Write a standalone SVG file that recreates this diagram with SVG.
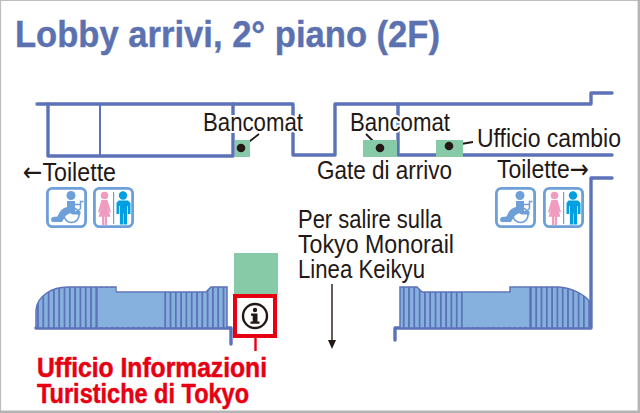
<svg xmlns="http://www.w3.org/2000/svg" width="640" height="413" viewBox="0 0 640 413">
<style>
.w{fill:none;stroke:#5c72b8;stroke-width:3.4;stroke-linejoin:round;stroke-linecap:round}
.t{font-family:"Liberation Sans",Arial,sans-serif;font-size:26px;fill:#231815}
.r{font-family:"Liberation Sans",Arial,sans-serif;font-size:27px;font-weight:700;fill:#e60012;stroke:#e60012;stroke-width:.5}
.a{font-family:"DejaVu Sans",sans-serif}
.g{fill:#87caa8}
.l{fill:none;stroke:#231815;stroke-width:1.800}
.d{fill:#231815}
.b{fill:#fff;stroke:#6e9fd8;stroke-width:2.800}
</style>
<defs>
<pattern id="st" width="5.300" height="10" patternUnits="userSpaceOnUse"><rect width="5.300" height="10" fill="#86b1de"/><rect width="1.800" height="10" fill="#5c72b8"/></pattern>
<g id="wc">
<rect class="b" x="1.400" y="1.400" width="38.200" height="38.200" rx="5"/>
<circle cx="25" cy="8.500" r="4.500" fill="#6e9fd8"/>
<path d="M21 14h8v10h5.500v3.500h-8.500l-1 -1h-4z" fill="#6e9fd8"/>
<path d="M29 17.500h5.500V14.500h3M34.500 17.500v4l-3 3" fill="none" stroke="#6e9fd8" stroke-width="1.500"/>
<circle cx="25.500" cy="28" r="7.500" fill="none" stroke="#6e9fd8" stroke-width="1.700"/>
<path d="M21.500 20c-6 1 -8 5 -10 9.500l-4.500 .5c-2.500 .5 -2.500 5 0 5h9c2 -3 3 -7 7 -8z" fill="#6e9fd8"/>
</g>
<g id="tl">
<rect class="b" x="1.400" y="1.400" width="38.200" height="38.200" rx="5"/>
<circle cx="11.500" cy="8.500" r="3.800" fill="#ef9cc0"/>
<path d="M8.500 13h6l3.500 12-1.500 .8l-2 -5l3 9h-3.500v8.500h-2.200v-8.500h-.6v8.500h-2.200v-8.500h-3.500l3 -9l-2 5l-1.500 -.8z" fill="#ef9cc0"/>
<rect x="20" y="5" width="1.200" height="32" fill="#6e9fd8"/>
<circle cx="30" cy="8.500" r="4.200" fill="#00a0e0"/>
<path d="M25.500 13.500h9.500l2.500 2.500v11h-2.800v-8h-.7v18.500h-3.300v-11h-.5v11h-3.300v-18.500h-.7v8h-2.700v-11z" fill="#00a0e0"/>
</g>
</defs>
<rect width="640" height="413" fill="#fff"/>
<path d="M.5 413V.5H640" fill="none" stroke="#bdbdbd" stroke-width="1.200"/>
<path d="M638.800 0V411.800H0" fill="none" stroke="#b5b5b5" stroke-width="2.400"/>
<text x="15" y="47" font-family="'Liberation Sans',Arial,sans-serif" font-size="36" font-weight="700" fill="#5c72b0" stroke="#5c72b0" stroke-width=".4" textLength="425" lengthAdjust="spacingAndGlyphs">Lobby arrivi, 2° piano (2F)</text>
<g id="connectors">
<path class="w" d="M37 104H293V155H335V104H591V93H612"/>
<path class="w" d="M48 104V156H233V104"/>
<path d="M100 104V156" fill="none" stroke="#5c72b8" stroke-width="2"/>
<path class="w" d="M398 104V155H612"/>
<path class="w" d="M612 178H591V328H395V340"/>
<path class="w" d="M36 328H231V344"/>
<path d="M332 284V342" fill="none" stroke="#231815" stroke-width="1.400"/>
<path d="M332 349l-4 -9h8z" fill="#231815"/>
<path d="M255.500 338V351" stroke="#e60012" stroke-width="2.400" fill="none"/>
<path class="l" d="M241 148L259 134M380 148L366 134M449 146L473 142"/>
</g>
<g id="roof-left">
<path d="M36 328V310C37 296 52 287 68 287H116V292H206L211 287H227V328Z" fill="url(#st)" stroke="#5c72b8" stroke-width="1.500"/>
<path d="M97 288H115.500V292.800H165V327H97Z" fill="#86b1de"/>
<path d="M97 288V328M165 292V328" stroke="#5c72b8" stroke-width="1.400"/>
</g>
<g id="roof-right">
<path d="M400 328V287H417L422 292H510V287H558C572 288 584 294 590 302V328Z" fill="url(#st)" stroke="#5c72b8" stroke-width="1.500"/>
<path d="M462 292.800H510.800V287.800H530V327H462Z" fill="#86b1de"/>
<path d="M462 292V328M530 287V328" stroke="#5c72b8" stroke-width="1.400"/>
</g>
<g id="atm-left">
<rect class="g" x="235" y="140" width="15" height="17"/>
<circle class="d" cx="241" cy="148" r="4.300"/>
<text class="t" x="203" y="131" textLength="100" lengthAdjust="spacingAndGlyphs" stroke="#fff" stroke-width="4" paint-order="stroke">Bancomat</text>
</g>
<g id="atm-right">
<rect class="g" x="363" y="140" width="34" height="17"/>
<circle class="d" cx="380" cy="148" r="4.300"/>
<text class="t" x="350" y="131" textLength="100" lengthAdjust="spacingAndGlyphs" stroke="#fff" stroke-width="4" paint-order="stroke">Bancomat</text>
</g>
<g id="exchange">
<rect class="g" x="436" y="140" width="27" height="17"/>
<circle class="d" cx="449" cy="146" r="4.300"/>
<text class="t" x="477" y="147" font-size="25" style="font-size:25px" textLength="144" lengthAdjust="spacingAndGlyphs">Ufficio cambio</text>
</g>
<g id="gate"><text class="t" x="317" y="179" textLength="135" lengthAdjust="spacingAndGlyphs">Gate di arrivo</text></g>
<g id="toilet-left">
<text class="t" x="23" y="181" textLength="93" lengthAdjust="spacingAndGlyphs"><tspan class="a">←</tspan>Toilette</text>
<use href="#wc" x="46" y="187"/>
<use href="#tl" x="93" y="187"/>
</g>
<g id="toilet-right">
<text class="t" x="497" y="178" textLength="92" lengthAdjust="spacingAndGlyphs">Toilette<tspan class="a">→</tspan></text>
<use href="#wc" x="495" y="187"/>
<use href="#tl" x="543" y="187"/>
</g>
<g id="monorail">
<text class="t" x="298" y="228" textLength="144" lengthAdjust="spacingAndGlyphs">Per salire sulla</text>
<text class="t" x="298" y="253" textLength="156" lengthAdjust="spacingAndGlyphs">Tokyo Monorail</text>
<text class="t" x="298" y="278" textLength="127" lengthAdjust="spacingAndGlyphs">Linea Keikyu</text>
</g>
<g id="info">
<rect class="g" x="234" y="253" width="44" height="41"/>
<rect x="235" y="296" width="40" height="40" fill="#fff" stroke="#e60012" stroke-width="4"/>
<circle cx="255" cy="316" r="12" fill="none" stroke="#231815" stroke-width="2.400"/>
<circle cx="255" cy="310" r="2.200" fill="#231815"/>
<path d="M251 313.500h6.500v8h2v2.200h-9v-2.200h2.200v-5.800h-1.700z" fill="#231815"/>
<text class="r" x="37" y="377" textLength="230" lengthAdjust="spacingAndGlyphs">Ufficio Informazioni</text>
<text class="r" x="37" y="403" textLength="212" lengthAdjust="spacingAndGlyphs">Turistiche di Tokyo</text>
</g>
</svg>
